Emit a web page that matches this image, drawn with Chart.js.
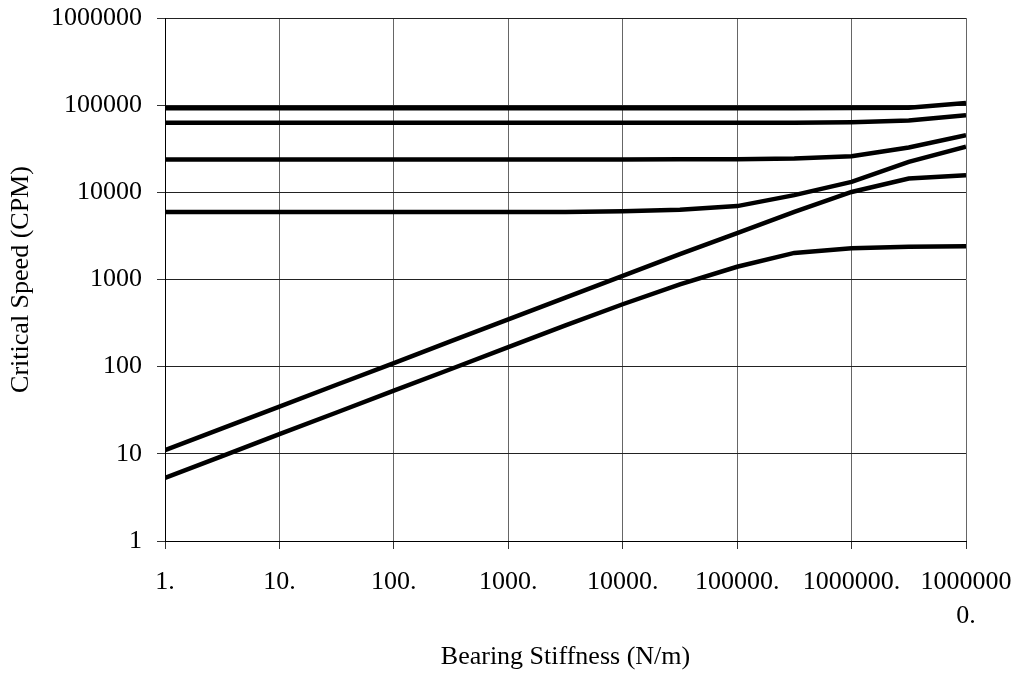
<!DOCTYPE html>
<html>
<head>
<meta charset="utf-8">
<script src="https://cdn.jsdelivr.net/npm/chart.js@4/dist/chart.umd.min.js"></script>
<style>
  html, body { margin: 0; padding: 0; background: #fff; }
  #wrap { width: 1020px; height: 680px; }
</style>
</head>
<body>
<div id="wrap"><canvas id="myChart" width="1020" height="680"></canvas></div>
<script>
// bearing stiffness (N/m), half-decade steps
var stiffness = [1, 3.16, 10, 31.6, 100, 316, 1000, 3160, 10000, 31600, 100000, 316000, 1000000, 3160000, 10000000];

// critical speeds (CPM)
var mode1 = [92000, 92000, 92000, 92000, 92000, 92000, 92000, 92000, 92000, 92000, 92000, 92200, 92500, 93500, 106000];
var mode2 = [62700, 62700, 62700, 62700, 62700, 62700, 62700, 62700, 62700, 62700, 62800, 63000, 63800, 66800, 76800];
var mode3 = [23800, 23800, 23800, 23800, 23800, 23800, 23800, 23800, 23800, 23900, 24000, 24500, 26000, 32700, 45300];
var mode4 = [5930, 5930, 5930, 5930, 5930, 5930, 5930, 5950, 6050, 6300, 6950, 9290, 13200, 22400, 33300];
var mode5 = [11, 19.6, 34.8, 62, 110, 196, 348, 619, 1100, 1960, 3400, 5970, 10100, 14400, 15700];
var mode6 = [5.3, 9.4, 16.8, 29.8, 53, 94, 168, 298, 520, 880, 1400, 2020, 2280, 2370, 2400];

var xTickValues = [1, 10, 100, 1000, 10000, 100000, 1000000, 10000000];
var xTickLabels = ['1.', '10.', '100.', '1000.', '10000.', '100000.', '1000000.', ['1000000', '0.']];
var yTickValues = [1, 10, 100, 1000, 10000, 100000, 1000000];
var yTickLabels = ['1', '10', '100', '1000', '10000', '100000', '1000000'];

var font = { family: '"Liberation Serif", "Times New Roman", serif', size: 26 };

function toPoints(arr) {
    return arr.map(function(v, i) { return { x: stiffness[i], y: v }; });
}

var series = [mode1, mode2, mode3, mode4, mode5, mode6];
var datasets = series.map(function(s, i) {
    return {
        label: 'Mode ' + (i + 1),
        data: toPoints(s),
        borderColor: '#000',
        backgroundColor: '#000',
        borderWidth: 4.5,
        pointRadius: 0,
        tension: 0,
        fill: false
    };
});

var config = {
    type: 'line',
    data: { datasets: datasets },
    options: {
        responsive: false,
        animation: false,
        layout: { padding: { left: 0, right: 54, top: 18, bottom: 0 } },
        scales: {
            x: {
                type: 'logarithmic',
                min: 1,
                max: 10000000,
                afterBuildTicks: function(scale) {
                    scale.ticks = xTickValues.map(function(v) { return { value: v }; });
                },
                afterFit: function(scale) {
                    scale.height = 139;
                    scale.paddingLeft = 0;
                    scale.paddingRight = 0;
                },
                ticks: {
                    autoSkip: false,
                    maxRotation: 0,
                    color: '#000',
                    font: { family: font.family, size: font.size, lineHeight: 1.3 },
                    padding: 16,
                    callback: function(value) {
                        var i = xTickValues.indexOf(value);
                        return i >= 0 ? xTickLabels[i] : '';
                    }
                },
                grid: { color: '#666', lineWidth: 1, tickLength: 8, tickColor: '#333' },
                border: { color: '#000', width: 1 },
                title: {
                    display: true,
                    text: 'Bearing Stiffness (N/m)',
                    color: '#000',
                    font: font,
                    padding: { top: 4, bottom: 7 }
                }
            },
            y: {
                type: 'logarithmic',
                min: 1,
                max: 1000000,
                afterBuildTicks: function(scale) {
                    scale.ticks = yTickValues.map(function(v) { return { value: v }; });
                },
                afterFit: function(scale) {
                    scale.width = 165;
                    scale.paddingTop = 0;
                    scale.paddingBottom = 0;
                },
                ticks: {
                    autoSkip: false,
                    color: '#000',
                    font: font,
                    padding: 15,
                    callback: function(value) {
                        var i = yTickValues.indexOf(value);
                        return i >= 0 ? yTickLabels[i] : '';
                    }
                },
                grid: { color: '#222', lineWidth: 1, tickLength: 8, tickColor: '#333' },
                border: { color: '#000', width: 1 },
                title: {
                    display: true,
                    text: 'Critical Speed (CPM)',
                    color: '#000',
                    font: font,
                    padding: { top: 6, bottom: 4 }
                }
            }
        },
        plugins: {
            legend: { display: false },
            tooltip: { enabled: false },
            title: { display: false }
        }
    }
};

window.onload = function() {
    var ctx = document.getElementById('myChart').getContext('2d');
    window.myChart = new Chart(ctx, config);
};
</script>
</body>
</html>
